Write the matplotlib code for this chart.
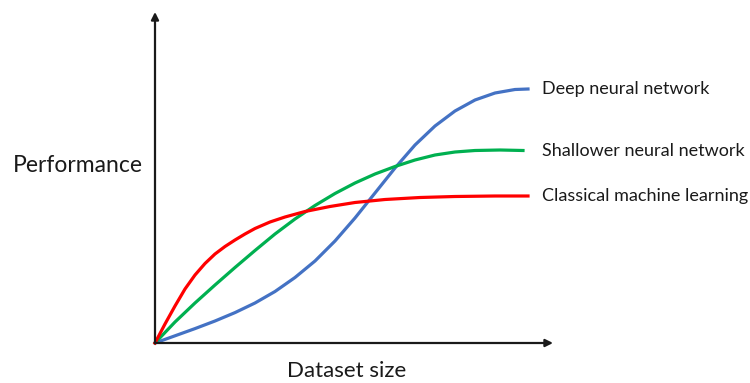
import matplotlib
matplotlib.use("Agg")
import matplotlib.pyplot as plt

# curve values (arbitrary units, origin at the axes corner)
deep_x = [0, 20, 40, 60, 80, 100, 120, 140, 160, 180, 200, 220, 240, 260, 280, 300, 320, 340, 360, 373]
deep_y = [0, 7.2, 14.4, 22, 30.4, 40, 51.5, 65.5, 82, 102, 125, 150, 175, 198, 217, 232, 243, 250, 253.5, 254]

shallow_x = [0, 20, 40, 60, 80, 100, 120, 140, 160, 180, 200, 220, 240, 260, 280, 300, 320, 345, 368]
shallow_y = [0, 21, 40, 58, 75.5, 92.5, 109, 124, 137.5, 149.5, 160, 169, 176.5, 183, 188, 191, 192.5, 193, 192.5]

classic_x = [0, 10, 20, 30, 40, 50, 60, 70, 80, 90, 100, 115, 130, 150, 175, 200, 230, 265, 300, 340, 373]
classic_y = [0, 19, 37, 54, 68, 79.5, 89, 96.5, 103, 109, 114.5, 121, 126, 131.5, 136.5, 140.5, 143.5, 145.5, 146.5, 147, 147]

labels = ["Deep neural network", "Shallower neural network", "Classical machine learning"]
colors = ["#4472C4", "#00B050", "#FF0000"]

plt.rcParams['font.family'] = ['Lato', 'DejaVu Sans']

fig = plt.figure(figsize=(7.5, 3.83), dpi=100)
ax = fig.add_axes([0, 0, 1, 1])
ax.set_xlim(-155, 595)
ax.set_ylim(-40, 343)
ax.axis("off")

label_x = 387
series = [(deep_x, deep_y), (shallow_x, shallow_y), (classic_x, classic_y)]
for (xs, ys), lab, c in zip(series, labels, colors):
    ax.plot(xs, ys, color=c, linewidth=2.3, solid_joinstyle="round")
    ax.text(label_x, ys[-1], lab, fontsize=13, va="center", ha="left", color="#1a1a1a")

# axes with arrow heads
arrow = dict(arrowstyle="-|>", lw=1.6, color="#1a1a1a", mutation_scale=11, shrinkA=0, shrinkB=0)
ax.annotate("", xy=(398, 0), xytext=(0, 0), arrowprops=arrow)
ax.annotate("", xy=(0, 331), xytext=(0, 0), arrowprops=arrow)

ax.text(-77, 178, "Performance", fontsize=16.5, ha="center", va="center", color="#1a1a1a")
ax.text(192, -28, "Dataset size", fontsize=16, ha="center", va="center", color="#1a1a1a")

fig.savefig("out.png", dpi=100)
